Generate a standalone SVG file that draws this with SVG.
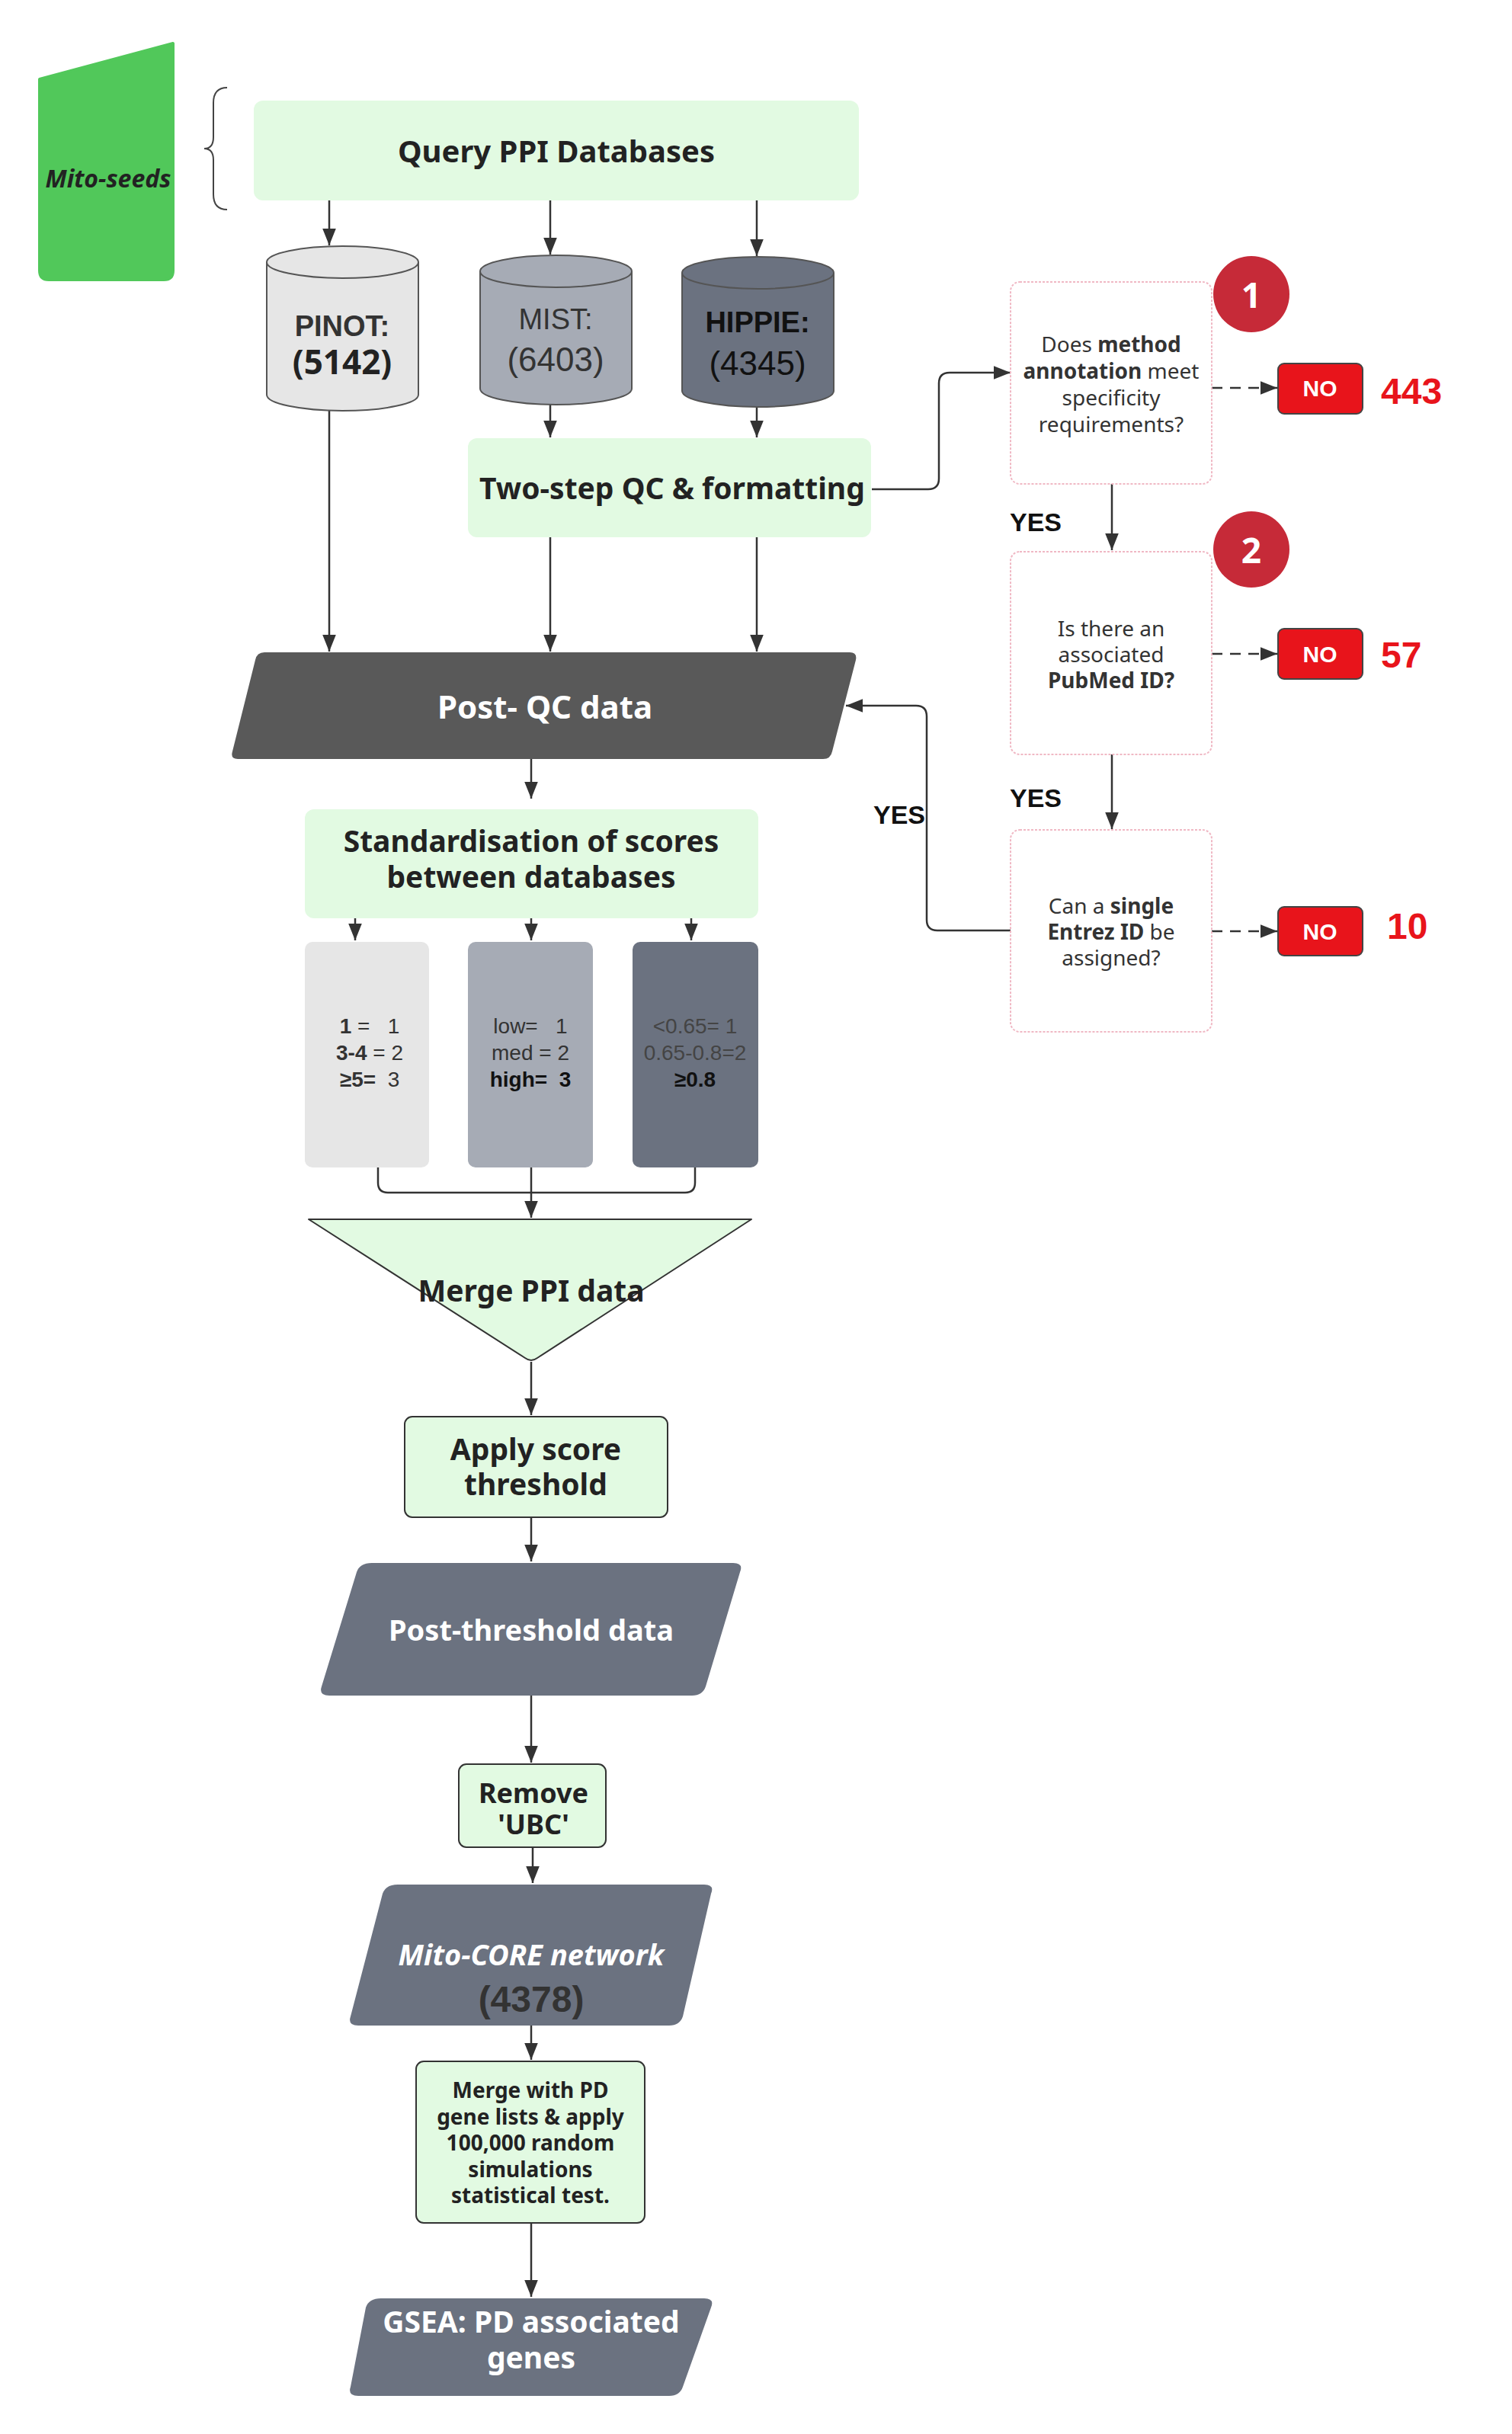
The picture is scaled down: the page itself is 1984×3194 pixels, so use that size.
<svg xmlns="http://www.w3.org/2000/svg" width="1984" height="3194" viewBox="0 0 1984 3194">
<defs>
<marker id="ahb" viewBox="0 0 10 10" refX="10" refY="5" markerWidth="22" markerHeight="22" markerUnits="userSpaceOnUse" orient="auto"><path d="M0,1 L10,5 L0,9 z" fill="#333"/></marker>
<style>
.c{fill:none;stroke:#333;stroke-width:2.5;marker-end:url(#ahb)}
.l{fill:none;stroke:#333;stroke-width:2.5}
.g{fill:#e2fae2}
.t{font-family:"Noto Sans","Open Sans",sans-serif;font-weight:bold;text-anchor:middle;fill:#222}
.a{font-family:"Liberation Sans",Arial,sans-serif;text-anchor:middle}
.q{fill:#fff;stroke:#f0b8c4;stroke-width:2;stroke-dasharray:3 2}
.qt{font-family:"Noto Sans","Open Sans",sans-serif;font-size:28px;text-anchor:middle;fill:#333}
.no{fill:#e8141b;stroke:#444;stroke-width:2}
.not{font-family:"Liberation Sans",Arial,sans-serif;font-weight:bold;font-size:30px;fill:#fff;text-anchor:middle}
.num{font-family:"Liberation Sans",Arial,sans-serif;font-weight:bold;font-size:48px;fill:#e8141b}
.yes{font-family:"Liberation Sans",Arial,sans-serif;font-weight:bold;font-size:34px;fill:#111;text-anchor:middle}
.w{fill:#fff}
</style>
</defs>
<rect width="1984" height="3194" fill="#fff"/>

<g id="connectors">
<path class="c" d="M432,263 V322"/>
<path class="c" d="M722,263 V334"/>
<path class="c" d="M993,263 V336"/>
<path class="c" d="M722,531 V574"/>
<path class="c" d="M993,534 V574"/>
<path class="c" d="M432,539 V855"/>
<path class="c" d="M722,705 V855"/>
<path class="c" d="M993,705 V855"/>
<path class="c" d="M1144,642 H1218 Q1232,642 1232,628 V503 Q1232,489 1246,489 H1326"/>
<path class="c" d="M1459,635 V722"/>
<path class="c" d="M1459,990 V1088"/>
<path class="c" d="M1326,1221 H1230 Q1216,1221 1216,1207 V940 Q1216,926 1202,926 H1110"/>
<path class="c" d="M1590,509 H1676" stroke-dasharray="14 10"/>
<path class="c" d="M1590,858 H1676" stroke-dasharray="14 10"/>
<path class="c" d="M1590,1222 H1676" stroke-dasharray="14 10"/>
<path class="c" d="M697,996 V1048"/>
<path class="c" d="M466,1205 V1234"/>
<path class="c" d="M697,1205 V1234"/>
<path class="c" d="M907,1205 V1234"/>
<path class="l" d="M496,1532 V1552 Q496,1565 509,1565 H899 Q912,1565 912,1552 V1532"/>
<path class="c" d="M697,1532 V1598"/>
<path class="c" d="M697,1787 V1857"/>
<path class="c" d="M697,1991 V2049"/>
<path class="c" d="M697,2225 V2313"/>
<path class="c" d="M699,2424 V2471"/>
<path class="c" d="M697,2658 V2703"/>
<path class="c" d="M697,2917 V3014"/>
</g>

<g id="mito-seeds">
<path d="M52,104 L227,57 V355 Q227,367 215,367 H64 Q52,367 52,355 Z" fill="#51c85a" stroke="#51c85a" stroke-width="4" stroke-linejoin="round"/>
<text x="142" y="246" class="t" font-size="32" font-style="italic">Mito-seeds</text>
</g>
<g id="brace">
<path d="M298,115 Q280,115 280,135 V180 Q280,195 268,195 Q280,195 280,210 V255 Q280,275 298,275" fill="none" stroke="#444" stroke-width="2"/>
</g>
<g id="query">
<rect x="333" y="132" width="794" height="131" rx="12" class="g"/>
<text x="730" y="213" class="t" font-size="40">Query PPI Databases</text>
</g>
<g id="pinot">
<path d="M350,344 V518 A99.5,21 0 0 0 549,518 V344" fill="#e6e6e6" stroke="#555" stroke-width="2"/>
<ellipse cx="449.5" cy="344" rx="99.5" ry="21" fill="#e6e6e6" stroke="#555" stroke-width="2"/>
<text x="449" y="441" class="a" font-size="38" font-weight="bold" fill="#333">PINOT:</text>
<text x="449" y="491" class="t" font-size="44" fill="#333">(5142)</text>
</g>
<g id="mist">
<path d="M630,356 V510 A99.5,21 0 0 0 829,510 V356" fill="#a6abb5" stroke="#555" stroke-width="2"/>
<ellipse cx="729.5" cy="356" rx="99.5" ry="21" fill="#a6abb5" stroke="#555" stroke-width="2"/>
<text x="729" y="432" class="a" font-size="38" fill="#333">MIST:</text>
<text x="729" y="487" class="a" font-size="44" fill="#333">(6403)</text>
</g>
<g id="hippie">
<path d="M895,358 V513 A99.5,21 0 0 0 1094,513 V358" fill="#6b7280" stroke="#555" stroke-width="2"/>
<ellipse cx="994.5" cy="358" rx="99.5" ry="21" fill="#6b7280" stroke="#555" stroke-width="2"/>
<text x="994" y="436" class="a" font-size="38" font-weight="bold" fill="#111">HIPPIE:</text>
<text x="994" y="492" class="a" font-size="44" fill="#111">(4345)</text>
</g>
<g id="two-step">
<rect x="614" y="575" width="529" height="130" rx="12" class="g"/>
<text x="882" y="655" class="t" font-size="39">Two-step QC &amp; formatting</text>
</g>
<g id="post-qc">
<path d="M347,856 H1115 Q1125,856 1123,866 L1092,986 Q1090,996 1080,996 H312 Q302,996 305,986 L335,866 Q337,856 347,856 Z" fill="#595959"/>
<text x="715" y="943" class="t w" font-size="42">Post- QC data</text>
</g>

<g id="decision1">
<rect x="1326" y="370" width="264" height="265" rx="12" class="q"/>
<text class="qt"><tspan x="1458" y="462">Does <tspan font-weight="bold">method</tspan></tspan><tspan x="1458" y="497"><tspan font-weight="bold">annotation</tspan> meet</tspan><tspan x="1458" y="532">specificity</tspan><tspan x="1458" y="567">requirements?</tspan></text>
</g>
<g id="badge1"><circle cx="1642" cy="386" r="50" fill="#c62a38"/><text x="1642" y="404" class="t w" font-size="46">1</text></g>
<g id="no1"><rect x="1677" y="477" width="111" height="66" rx="8" class="no"/><text x="1732" y="520" class="not">NO</text></g>
<text x="1812" y="530" class="num">443</text>
<text x="1359" y="697" class="yes">YES</text>

<g id="decision2">
<rect x="1326" y="724" width="264" height="266" rx="12" class="q"/>
<text class="qt"><tspan x="1458" y="835">Is there an</tspan><tspan x="1458" y="869">associated</tspan><tspan x="1458" y="903" font-weight="bold">PubMed ID?</tspan></text>
</g>
<g id="badge2"><circle cx="1642" cy="721" r="50" fill="#c62a38"/><text x="1642" y="739" class="t w" font-size="46">2</text></g>
<g id="no2"><rect x="1677" y="825" width="111" height="66" rx="8" class="no"/><text x="1732" y="869" class="not">NO</text></g>
<text x="1812" y="876" class="num">57</text>
<text x="1359" y="1059" class="yes">YES</text>

<g id="decision3">
<rect x="1326" y="1089" width="264" height="265" rx="12" class="q"/>
<text class="qt"><tspan x="1458" y="1199">Can a <tspan font-weight="bold">single</tspan></tspan><tspan x="1458" y="1233"><tspan font-weight="bold">Entrez ID</tspan> be</tspan><tspan x="1458" y="1267">assigned?</tspan></text>
</g>
<g id="no3"><rect x="1677" y="1190" width="111" height="64" rx="8" class="no"/><text x="1732" y="1233" class="not">NO</text></g>
<text x="1820" y="1232" class="num">10</text>
<text x="1180" y="1081" class="yes">YES</text>

<g id="standardisation">
<rect x="400" y="1062" width="595" height="143" rx="12" class="g"/>
<text x="697" y="1118" class="t" font-size="39">Standardisation of scores</text>
<text x="697" y="1165" class="t" font-size="39">between databases</text>
</g>
<g id="score1">
<rect x="400" y="1236" width="163" height="296" rx="10" fill="#e6e6e6"/>
<text class="a" font-size="28" fill="#333" xml:space="preserve"><tspan x="485" y="1356"><tspan font-weight="bold">1</tspan> =   1</tspan><tspan x="485" y="1391"><tspan font-weight="bold">3-4</tspan> = 2</tspan><tspan x="485" y="1426"><tspan font-weight="bold">≥5=</tspan>  3</tspan></text>
</g>
<g id="score2">
<rect x="614" y="1236" width="164" height="296" rx="10" fill="#a6abb5"/>
<text class="a" font-size="28" fill="#333" xml:space="preserve"><tspan x="696" y="1356">low=   1</tspan><tspan x="696" y="1391">med = 2</tspan><tspan x="696" y="1426" font-weight="bold" fill="#111">high=  3</tspan></text>
</g>
<g id="score3">
<rect x="830" y="1236" width="165" height="296" rx="10" fill="#6b7280"/>
<text class="a" font-size="28" fill="#444"><tspan x="912" y="1356">&lt;0.65= 1</tspan><tspan x="912" y="1391">0.65-0.8=2</tspan><tspan x="912" y="1426" font-weight="bold" fill="#111">≥0.8</tspan></text>
</g>
<g id="merge-ppi">
<path d="M405,1600 H986 L705,1782 Q697,1788 689,1782 Z" fill="#e2fae2" stroke="#333" stroke-width="2" stroke-linejoin="round"/>
<text x="697" y="1708" class="t" font-size="39">Merge PPI data</text>
</g>
<g id="apply-threshold">
<rect x="531" y="1859" width="345" height="132" rx="10" class="g" stroke="#333" stroke-width="2"/>
<text x="703" y="1916" class="t" font-size="39">Apply score</text>
<text x="703" y="1962" class="t" font-size="39">threshold</text>
</g>
<g id="post-threshold">
<path d="M488,2051 H962 Q976,2051 971,2063 L926,2213 Q922,2225 908,2225 H432 Q418,2225 422,2213 L468,2063 Q472,2051 488,2051 Z" fill="#6b7280"/>
<text x="697" y="2153" class="t w" font-size="38">Post-threshold data</text>
</g>
<g id="remove-ubc">
<rect x="602" y="2315" width="193" height="109" rx="10" class="g" stroke="#333" stroke-width="2"/>
<text x="700" y="2366" class="t" font-size="36">Remove</text>
<text x="700" y="2407" class="t" font-size="36">'UBC'</text>
</g>
<g id="mito-core">
<path d="M522,2473 H924 Q938,2473 933,2485 L896,2646 Q892,2658 878,2658 H470 Q456,2658 460,2646 L502,2485 Q506,2473 522,2473 Z" fill="#6b7280"/>
<text x="697" y="2579" class="t w" font-size="38" font-style="italic">Mito-CORE network</text>
<text x="697" y="2640" class="a" font-size="48" font-weight="bold" fill="#333">(4378)</text>
</g>
<g id="merge-pd">
<rect x="546" y="2705" width="300" height="212" rx="10" class="g" stroke="#333" stroke-width="2"/>
<text class="t" font-size="28"><tspan x="696" y="2753">Merge with PD</tspan><tspan x="696" y="2788">gene lists &amp; apply</tspan><tspan x="696" y="2822">100,000 random</tspan><tspan x="696" y="2857">simulations</tspan><tspan x="696" y="2891">statistical test.</tspan></text>
</g>
<g id="gsea">
<path d="M500,3016 H924 Q938,3016 933,3028 L896,3132 Q892,3144 878,3144 H470 Q456,3144 460,3132 L480,3028 Q484,3016 500,3016 Z" fill="#6b7280"/>
<text x="697" y="3061" class="t w" font-size="39">GSEA: PD associated</text>
<text x="697" y="3108" class="t w" font-size="39">genes</text>
</g>
</svg>
